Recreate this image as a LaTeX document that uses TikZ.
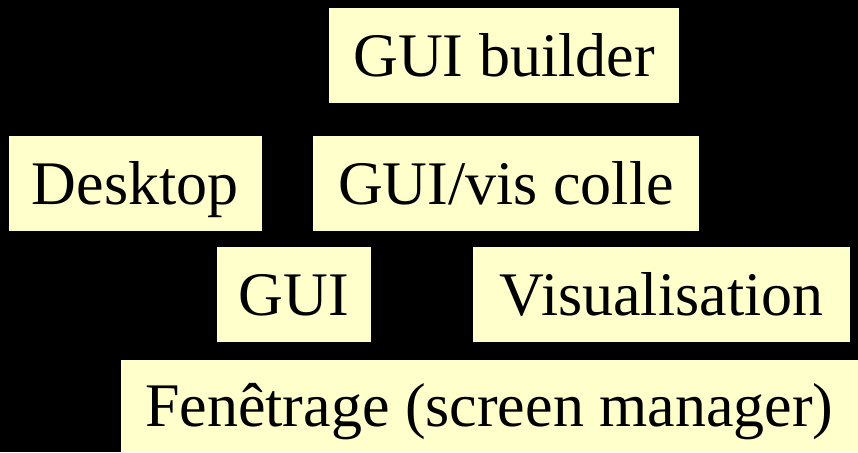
\documentclass[tikz,border=0pt]{standalone}
\usepackage{fontspec}
\setmainfont{Liberation Serif}
\usepackage{xcolor}
\usetikzlibrary{positioning}
\definecolor{slideblack}{RGB}{0,0,0}
\definecolor{boxyellow}{RGB}{255,255,204}

\begin{document}
\begin{tikzpicture}[
  x=1pt, y=1pt,
  font=\fontsize{62}{68}\selectfont,
  box/.style={fill=boxyellow, inner sep=0pt, minimum height=95pt, text height=41pt, text depth=0pt}
]
\fill[slideblack] (0,0) rectangle (858,-452);
\useasboundingbox (0,0) rectangle (858,-452);
\node[box, minimum width=350pt] (builder) at (504,-55.5) {GUI builder};
\node[box, minimum width=386pt, below=33pt of builder, xshift=2pt] (colle) {GUI/vis colle};
\node[box, minimum width=253pt, left=51pt of colle] (desktop) {Desktop};
\node[box, minimum width=737pt, minimum height=92pt, anchor=south east] (fenetre) at (858,-452) {Fenêtrage (screen manager)};
\node[box, minimum width=154pt, above right=17pt and 96pt of fenetre.north west] (gui) {GUI};
\node[box, minimum width=377pt, right=102pt of gui] (visu) {Visualisation};
\end{tikzpicture}
\end{document}
